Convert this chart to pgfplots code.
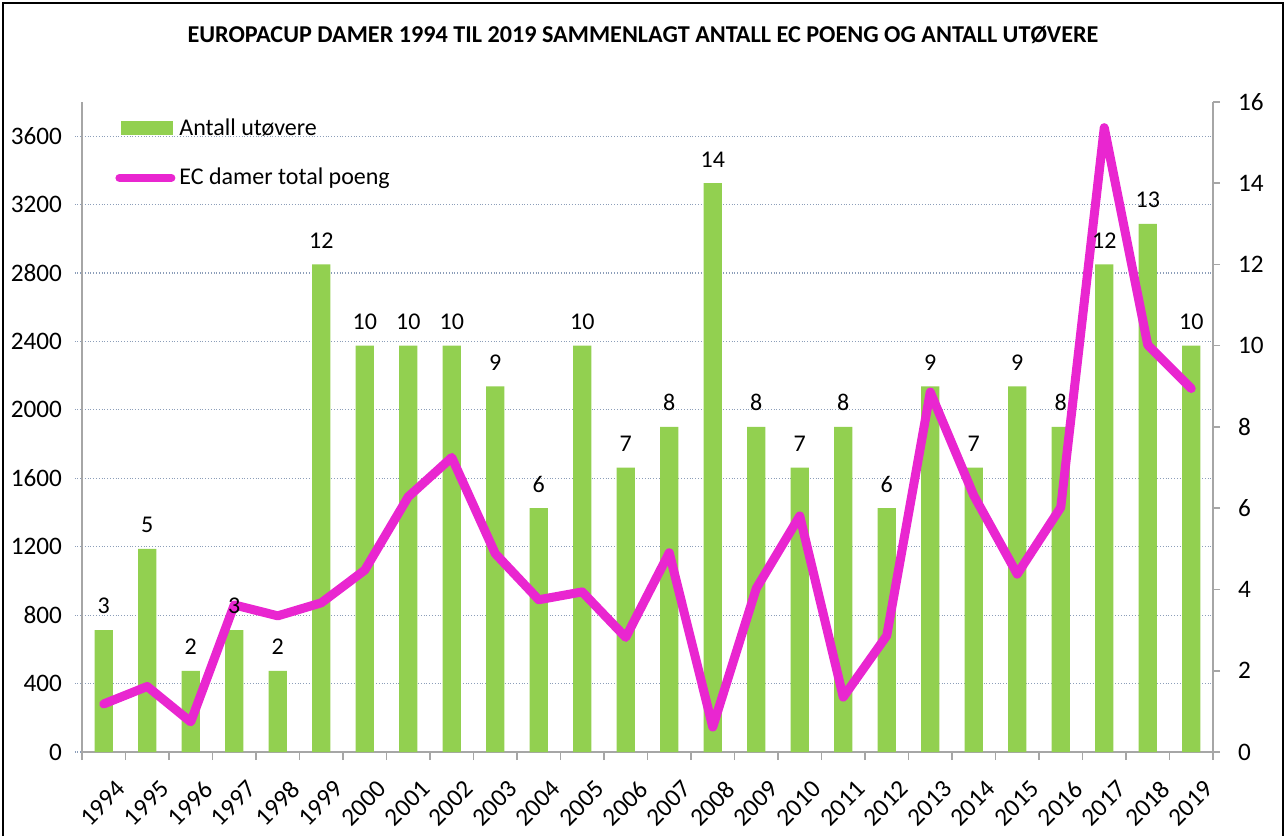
\documentclass[border=0pt]{standalone}
\usepackage{fontspec}
\setmainfont{Carlito}
\usepackage{pgfplots}
\usepackage{pgfplotstable}
\pgfplotsset{compat=1.18}
\definecolor{bargreen}{RGB}{146,208,80}
\definecolor{linemag}{RGB}{233,38,208}
\definecolor{axgray}{RGB}{166,166,166}
\definecolor{gridc}{RGB}{140,158,185}

\pgfplotstableread{
x year pts n
0 1994 281 3
1 1995 383 5
2 1996 176 2
3 1997 860 3
4 1998 796 2
5 1999 872 12
6 2000 1063 10
7 2001 1492 10
8 2002 1722 10
9 2003 1160 9
10 2004 890 6
11 2005 936 10
12 2006 670 7
13 2007 1165 8
14 2008 146 14
15 2009 956 8
16 2010 1380 7
17 2011 321 8
18 2012 680 6
19 2013 2104 9
20 2014 1500 7
21 2015 1040 9
22 2016 1430 8
23 2017 3650 12
24 2018 2380 13
25 2019 2125 10
}\datatable

\begin{document}
\begin{tikzpicture}
\useasboundingbox (-41pt,-42pt) rectangle (602pt,376pt);
\pgfplotsset{
  common/.style={
    scale only axis, width=565.5pt, height=325pt,
    xmin=-0.5, xmax=25.5,
    tick label style={font=\fontsize{12.6}{15}\selectfont},
    /pgf/number format/assume math mode=true,
    /pgf/number format/1000 sep={},
  },
}
% frame
\draw[line width=1pt] (-39.5pt,-42pt) -- (-39.5pt,374.5pt) -- (600.5pt,374.5pt) -- (600.5pt,-42pt);
% title
\node[font=\bfseries\fontsize{12.1}{14}\selectfont, anchor=base] at (280.5pt,354.5pt)
  {EUROPACUP DAMER 1994 TIL 2019 SAMMENLAGT ANTALL EC POENG OG ANTALL UTØVERE};

% axis 1: left scale, grid, x labels
\begin{axis}[common, ymin=0, ymax=3800, ytick={0,400,...,3600},
  axis x line*=bottom, axis y line*=left,
  axis line style={axgray, line width=0.75pt},
  ymajorgrids, grid style={gridc, densely dotted, line width=0.6pt},
  xtick={0,...,25}, xticklabels from table={\datatable}{year},
  major x tick style={draw=none},
  minor xtick={-0.5,0.5,...,25.5},
  minor x tick style={axgray, line width=0.75pt}, minor tick length=4pt,
  tick align=outside,
  y tick style={gridc, densely dotted, line width=0.6pt}, major tick length=3.5pt,
  xticklabel style={rotate=45, anchor=north east, inner sep=1pt, xshift=-2pt, yshift=-10pt},
  yticklabel style={xshift=-3pt},
]
\end{axis}

% axis 2: right scale, bars
\begin{axis}[common, ymin=0, ymax=16, ytick={0,2,...,16},
  axis y line*=right, axis x line=none,
  axis line style={axgray, line width=0.75pt},
  y tick style={axgray, line width=0.75pt},
  tick align=outside, major tick length=3.5pt,
  yticklabel style={anchor=west, xshift=5.5pt},
  ybar, bar width=0.414,
]
\addplot[fill=bargreen, draw=none] table[x=x, y=n]{\datatable};
\end{axis}

% axis 3: line and legend
\begin{axis}[common, ymin=0, ymax=3800, hide axis,
  legend style={at={(rel axis cs:0,1)}, anchor=north west, xshift=13.5pt, yshift=-4pt,
    draw=none, fill=none, font=\fontsize{12}{14}\selectfont, row sep=11pt},
  legend cell align=left,
]
\addlegendimage{legend image code/.code={\fill[bargreen, draw=none, overlay] (2pt,-3.5pt) rectangle (28pt,3.5pt); \path[draw=none, fill=none] (0pt,0pt) -- (26pt,0pt);}}
\addlegendentry{Antall utøvere}
\addplot[linemag, line width=4.5pt, line join=round, line cap=round,
  legend image code/.code={\draw[linemag, line width=4pt, line cap=round] (1pt,0pt) -- (27pt,0pt);}]
  table[x=x, y=pts]{\datatable};
\addlegendentry{EC damer total poeng}
\end{axis}

% axis 4: bar value labels
\begin{axis}[common, ymin=0, ymax=16, hide axis]
\addplot[draw=none, mark=none, nodes near coords,
  nodes near coords style={font=\fontsize{12}{14}\selectfont, anchor=south, yshift=4.5pt, text=black}]
  table[x=x, y=n]{\datatable};
\end{axis}
\end{tikzpicture}
\end{document}
